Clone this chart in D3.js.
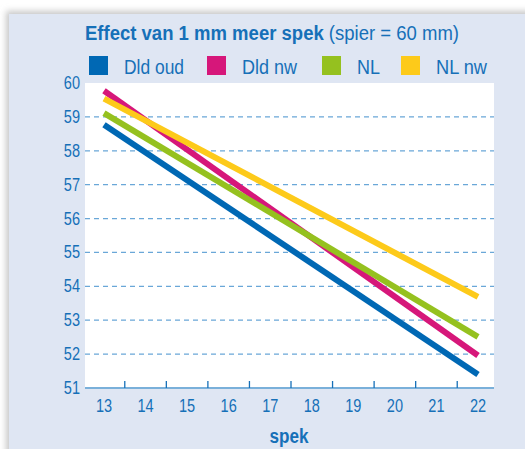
<!DOCTYPE html>
<html><head><meta charset="utf-8">
<script src="https://cdn.jsdelivr.net/npm/d3@7"></script>
<style>body{margin:0;background:#fff}svg{display:block}</style>
</head><body>
<svg id="c" width="525" height="449"></svg>
<script>
const spek = [13, 14, 15, 16, 17, 18, 19, 20, 21, 22];
const lineX = [13, 22];
const seriesNames = ["Dld oud", "Dld nw", "NL", "NL nw"];
const dldOud = [58.77, 51.40];
const dldNw = [59.77, 51.96];
const nl = [59.11, 52.51];
const nlNw = [59.54, 53.69];
const yTicks = [51, 52, 53, 54, 55, 56, 57, 58, 59, 60];
const colors = ["#0068b4", "#d6177a", "#95c11f", "#fdca1a"];
const series = [dldOud, dldNw, nl, nlNw];

const svg = d3.select("#c");
const font = "'Liberation Sans',Arial,sans-serif";
const blue = "#1670b8";

function squeeze(sel, k, target) {
  sel.each(function(d, i) {
    const n = this.getComputedTextLength();
    const w = target ? (typeof target === "function" ? target(d, i) : target) : n * k;
    d3.select(this).attr("textLength", w).attr("lengthAdjust", "spacingAndGlyphs");
  });
}

// shadow + panel
const defs = svg.append("defs");
const f = defs.append("filter").attr("id","sh").attr("x","-5%").attr("y","-5%").attr("width","110%").attr("height","110%");
f.append("feGaussianBlur").attr("stdDeviation",3);
svg.append("rect").attr("x",6).attr("y",11).attr("width",540).attr("height",460).attr("fill","#c8c8c8").attr("filter","url(#sh)");
svg.append("rect").attr("x",9).attr("y",14).attr("width",530).attr("height",450).attr("fill","#dfe6f3");

const L = 85, R = 494, T = 83, B = 388;
svg.append("rect").attr("x",L).attr("y",T).attr("width",R-L).attr("height",B-T).attr("fill","#fff");

const x = d3.scalePoint().domain(spek).range([104, 478]);
const y = d3.scaleLinear().domain([51, 60]).range([B, T]);

// grid
svg.append("g").selectAll("line").data(yTicks.filter(d => d > 51 && d < 60)).join("line")
  .attr("x1", L).attr("x2", R).attr("y1", d => y(d)).attr("y2", d => y(d))
  .attr("stroke", "#6aa7d8").attr("stroke-width", 1.3).attr("stroke-dasharray", "5,4");

// y labels
svg.append("g").selectAll("text").data(yTicks).join("text")
  .attr("x", 80).attr("y", d => y(d) + 6).attr("text-anchor", "end")
  .attr("font-family", font).attr("font-size", 17.5).attr("fill", blue).text(d => d)
  .call(squeeze, 0.83);

// lines
const line = d3.line().x((d, i) => x(lineX[i])).y(d => y(d));
svg.append("g").selectAll("path").data(series).join("path")
  .attr("d", d => line(d)).attr("fill", "none")
  .attr("stroke", (d, i) => colors[i]).attr("stroke-width", 6);

// x axis
svg.append("line").attr("x1", L).attr("x2", R).attr("y1", B).attr("y2", B)
  .attr("stroke", "#7ab0da").attr("stroke-width", 2);
const step = x.step();
svg.append("g").selectAll("line").data(spek.slice(0, -1)).join("line")
  .attr("x1", d => x(d) + step / 2).attr("x2", d => x(d) + step / 2)
  .attr("y1", B).attr("y2", B - 7).attr("stroke", "#1670b8").attr("stroke-width", 1.3);
svg.append("g").selectAll("text").data(spek).join("text")
  .attr("x", d => x(d)).attr("y", 412).attr("text-anchor", "middle")
  .attr("font-family", font).attr("font-size", 17.5).attr("fill", blue).text(d => d)
  .call(squeeze, 0.83);
svg.append("text").attr("x", 289).attr("y", 443).attr("text-anchor", "middle")
  .attr("font-family", font).attr("font-size", 20).attr("font-weight", "bold").attr("fill", blue).text("spek")
  .call(squeeze, 1, 39);

// title
const t = svg.append("text").attr("x", 85).attr("y", 40).attr("font-family", font).attr("font-size", 19.5).attr("fill", blue);
t.append("tspan").attr("font-weight", "bold").text("Effect van 1 mm meer spek ");
t.append("tspan").text("(spier = 60 mm)");
t.call(squeeze, 1, 374);

// legend
const legX = [89, 207, 322, 401];
const legW = [60, 55, 23, 51];
const g = svg.append("g").selectAll("g").data(seriesNames).join("g");
g.append("rect").attr("x", (d, i) => legX[i]).attr("y", 56).attr("width", 19).attr("height", 19).attr("fill", (d, i) => colors[i]);
g.append("text").attr("x", (d, i) => legX[i] + 35).attr("y", 74)
  .attr("font-family", font).attr("font-size", 19.5).attr("fill", blue).text(d => d)
  .each(function(d, i) { d3.select(this).attr("textLength", legW[i]).attr("lengthAdjust", "spacingAndGlyphs"); });
</script>
</body></html>
